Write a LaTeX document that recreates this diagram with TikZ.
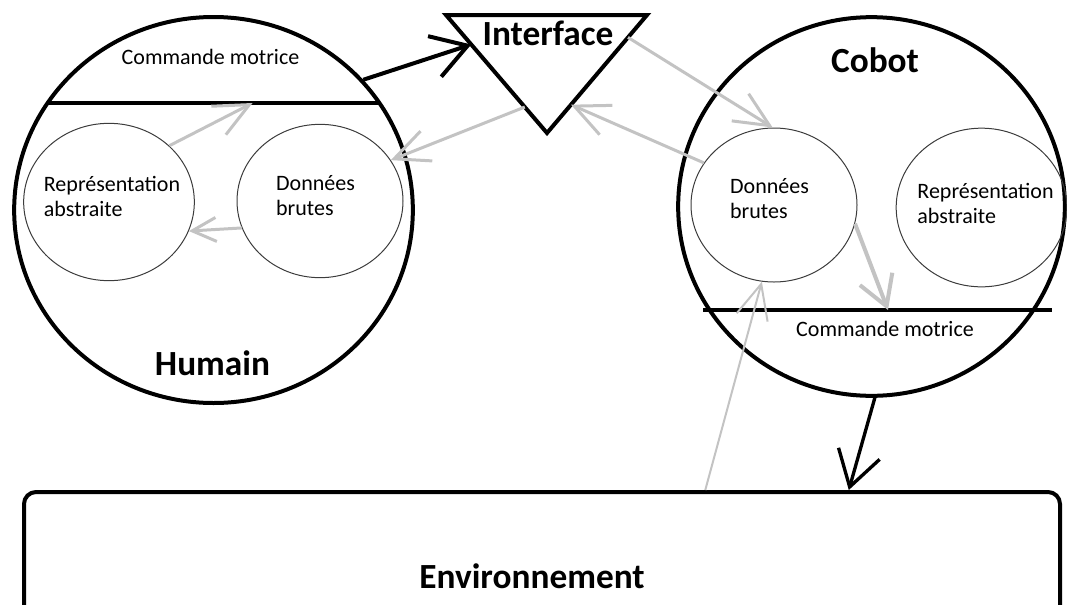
\documentclass[tikz,border=0pt]{standalone}
\usepackage{fontspec}
\setmainfont{Carlito}
\usetikzlibrary{arrows.meta,shapes.geometric,calc}
\definecolor{fleche}{RGB}{195,195,195}
\definecolor{trait}{RGB}{60,60,60}
\tikzset{
  bigblob/.style={ellipse,draw,line width=3pt,inner sep=0pt},
  smallblob/.style={ellipse,draw=trait,line width=0.75pt,inner sep=0pt,minimum width=128pt,minimum height=118pt},
  lbl/.style={font=\fontsize{16.5}{18.75}\selectfont,align=left,inner sep=0pt},
  title/.style={font=\bfseries\fontsize{26.5}{30}\selectfont,inner sep=0pt},
  flow/.style={line width=3pt,-{Straight Barb[length=26pt,width=32pt]}},
  feed/.style={draw=fleche,line width=2.25pt,-{Straight Barb[length=26pt,width=24pt]}}
}

\begin{document}
\begin{tikzpicture}[x=0.75pt,y=-0.75pt]
\useasboundingbox(0,0)rectangle(1067,604);
\clip(0,0)rectangle(1067,604);
%humain
\node[bigblob,minimum width=299pt,minimum height=289.5pt](humain)at(213.5,210){};
\draw[line width=3pt](48,103)coordinate(hl1)--(378,103)coordinate(hl2);
\node[smallblob](repH)at(109,202){};
\node[smallblob,minimum width=124.5pt,minimum height=115pt](donH)at(320,201){};
%cobot
\node[bigblob,minimum width=290pt,minimum height=284pt](cobot)at(871.5,206.5){};
\draw[line width=3pt](703,310)coordinate(cl1)--(1052,310)coordinate(cl2);
\node[smallblob,minimum width=124.5pt,minimum height=115.5pt](donC)at(774,205){};
\node[smallblob,minimum height=119pt](repC)at(981.5,207.5){};
%interface
\coordinate(triTL)at(446,15);
\coordinate(triTR)at(647,15);
\coordinate(triB)at(547,133);
\draw[line width=3pt,line join=miter](triTL)--(triTR)--(triB)--cycle;
%environnement
\node[draw,line width=3pt,rounded corners=9pt,minimum width=777pt,minimum height=126pt,inner sep=0pt](env)at(542,576){};
%labels
\node[lbl](cmdH)at(210.5,57){Commande motrice};
\node[lbl](repHt)at(112,196){Représentation\\abstraite};
\node[lbl](donHt)at(315.5,196){Données\\brutes};
\node[lbl](donCt)at(769.5,199){Données\\brutes};
\node[lbl](repCt)at(985.5,203){Représentation\\abstraite};
\node[lbl](cmdC)at(885,329){Commande motrice};
\node[title](humaintxt)at(212.5,363){Humain};
\node[title](cobottxt)at(875,60){Cobot};
\node[title](ifacetxt)at(548,33){Interface};
\node[title](envtxt)at(532,576){Environnement};
%grey arrows
\draw[feed](repH.43)--($(hl1)!0.62!(hl2)$);
\draw[feed,-{Straight Barb[length=18pt,width=18pt]}](donH.199)--(repH.340);
\draw[feed]($(triTL)!0.78!(triB)$)--(donH.30);
\draw[feed](donC.149)--($(triTR)!0.76!(triB)$);
\draw[feed]($(triTR)!0.19!(triB)$)--(donC.91);
\draw[feed,line width=3pt,-{Straight Barb[length=22pt,width=26pt]}](donC.-13)--($(cl1)!0.53!(cl2)$);
\draw[feed,line width=1.5pt]($(env.north west)!0.657!(env.north east)$)--(donC.261);
%black arrows
\draw[flow](humain.41)--($(triTL)!0.25!(triB)$);
\draw[flow,line width=2.5pt](cobot.-89)--($(env.north west)!0.795!(env.north east)$);
\end{tikzpicture}
\end{document}
